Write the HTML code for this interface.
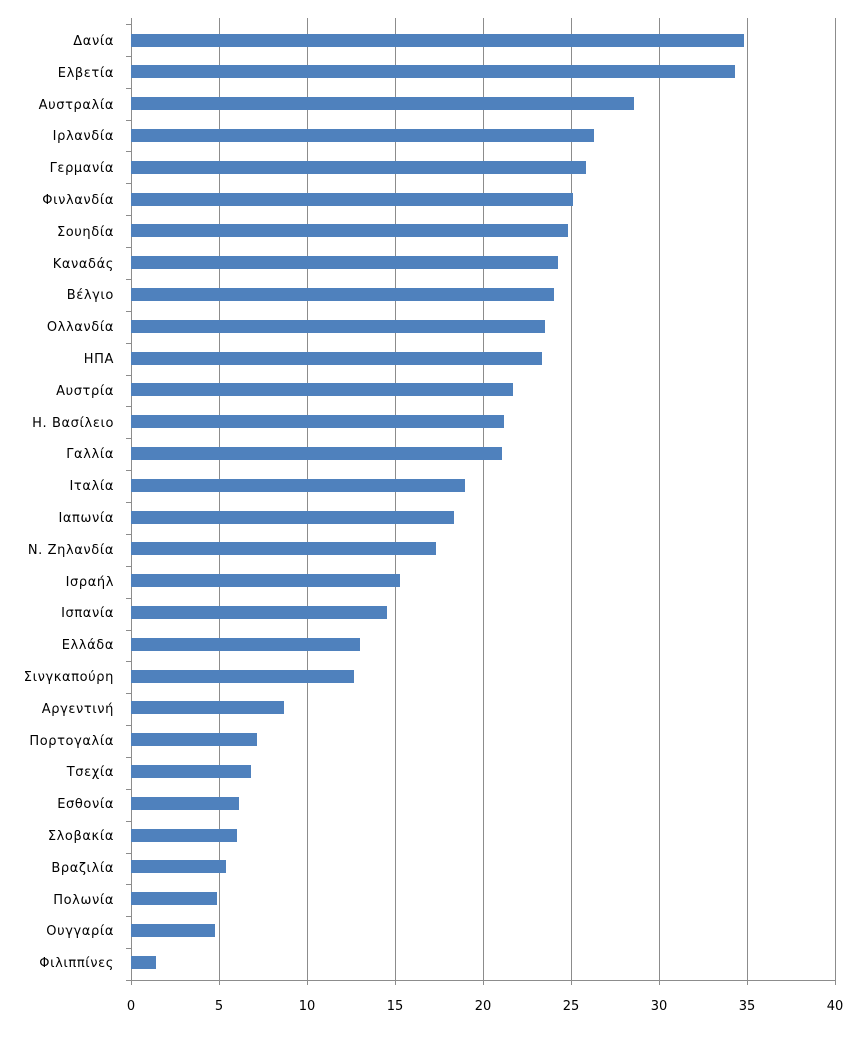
<!DOCTYPE html>
<html><head><meta charset="utf-8"><style>
body{margin:0;background:#fff;width:868px;height:1039px;position:relative;overflow:hidden;font-family:"DejaVu Sans","Liberation Sans",sans-serif;font-size:13px;color:#000}
.g{position:absolute;top:18px;height:962px;width:1px;background:#8c8c8c}
.b{position:absolute;left:131px;height:13px;background:#4f81bd}
.l{position:absolute;right:754px;white-space:nowrap;line-height:16px;letter-spacing:0.6px}
.t{position:absolute;top:999px;width:40px;text-align:center;margin-left:-20px}
.k{position:absolute;top:980px;width:1px;height:5px;background:#8c8c8c}
</style></head><body>
<div class="g" style="left:219px"></div><div class="g" style="left:307px"></div><div class="g" style="left:395px"></div><div class="g" style="left:483px"></div><div class="g" style="left:571px"></div><div class="g" style="left:659px"></div><div class="g" style="left:747px"></div><div class="g" style="left:835px"></div>
<div style="position:absolute;left:131px;top:18px;width:1px;height:967px;background:#8c8c8c"></div>
<div style="position:absolute;left:126px;top:980px;width:710px;height:1px;background:#8c8c8c"></div>
<div id="c"></div>
<script>
var d=[["Δανία",744],["Ελβετία",735],["Αυστραλία",634],["Ιρλανδία",594],["Γερμανία",586],["Φινλανδία",573],["Σουηδία",568],["Καναδάς",558],["Βέλγιο",554],["Ολλανδία",545],["ΗΠΑ",542],["Αυστρία",513],["Η. Βασίλειο",504],["Γαλλία",502],["Ιταλία",465],["Ιαπωνία",454],["Ν. Ζηλανδία",436],["Ισραήλ",400],["Ισπανία",387],["Ελλάδα",360],["Σινγκαπούρη",354],["Αργεντινή",284],["Πορτογαλία",257],["Τσεχία",251],["Εσθονία",239],["Σλοβακία",237],["Βραζιλία",226],["Πολωνία",217],["Ουγγαρία",215],["Φιλιππίνες",156]];
var h="";
for(var i=0;i<d.length;i++){var cy=40+i*31.8;
h+='<div class="b" style="top:'+(cy-6.5)+'px;width:'+(d[i][1]-131)+'px"></div>';
h+='<div class="l" style="top:'+(cy-6)+'px">'+d[i][0]+'</div>';}
for(var j=0;j<=8;j++){var x=131+j*88;h+='<div class="t" style="left:'+x+'px">'+(j*5)+'</div><div class="k" style="left:'+x+'px"></div>';}
for(var i=0;i<=30;i++){h+='<div style="position:absolute;left:126px;width:5px;height:1px;background:#8c8c8c;top:'+Math.round(24+i*31.87)+'px"></div>';}
document.getElementById("c").innerHTML=h;
</script>
</body></html>
